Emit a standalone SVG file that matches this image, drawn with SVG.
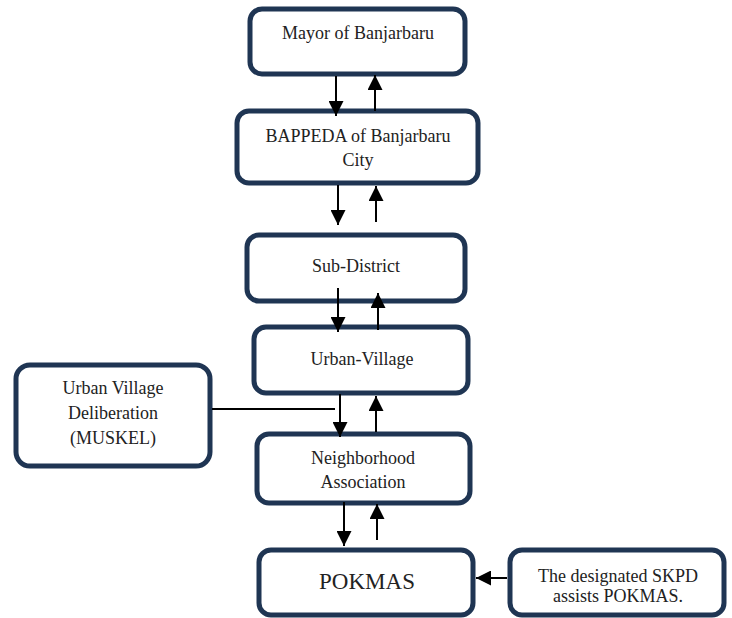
<svg xmlns="http://www.w3.org/2000/svg" width="732" height="618" viewBox="0 0 732 618">
<defs>
<style>
.box{fill:#fff;stroke:#1f3553;stroke-width:5}
.t{font-family:"Liberation Serif","DejaVu Serif",serif;font-size:18px;fill:#222;text-anchor:middle}
.c{stroke:#000;stroke-width:2;fill:none}
</style>
<marker id="ah" viewBox="0 0 10 10" refX="10" refY="5" markerWidth="7.5" markerHeight="7.5" markerUnits="strokeWidth" orient="auto">
<path d="M0,0 L10,5 L0,10 z" fill="#000"/>
</marker>
</defs>
<rect width="732" height="618" fill="#fff"/>
<g id="mayor"><rect class="box" x="250" y="9" width="215" height="65" rx="12"/><text class="t" x="358" y="39">Mayor of Banjarbaru</text></g>
<g id="bappeda"><rect class="box" x="237" y="111" width="241" height="72" rx="12"/><text class="t" x="358" y="142">BAPPEDA of Banjarbaru</text><text class="t" x="358" y="166">City</text></g>
<g id="subdistrict"><rect class="box" x="247" y="235" width="218" height="66" rx="12"/><text class="t" x="356" y="272">Sub-District</text></g>
<g id="urbanvillage"><rect class="box" x="254" y="327" width="214" height="66" rx="12"/><text class="t" x="362" y="365">Urban-Village</text></g>
<g id="neighborhood"><rect class="box" x="257" y="434" width="213" height="69" rx="12"/><text class="t" x="363" y="464">Neighborhood</text><text class="t" x="363" y="488">Association</text></g>
<g id="pokmas"><rect class="box" x="259" y="550" width="214" height="65" rx="12"/><text class="t" x="367" y="589" style="font-size:23px">POKMAS</text></g>
<g id="muskel"><rect class="box" x="16" y="365" width="194" height="101" rx="14"/><text class="t" x="113" y="394">Urban Village</text><text class="t" x="113" y="419">Deliberation</text><text class="t" x="113" y="444">(MUSKEL)</text></g>
<g id="skpd"><rect class="box" x="510" y="550" width="214" height="65" rx="12"/><text class="t" x="618" y="582">The designated SKPD</text><text class="t" x="618" y="602">assists POKMAS.</text></g>
<g id="connectors">
<line class="c" x1="336" y1="76" x2="336" y2="116" marker-end="url(#ah)"/>
<line class="c" x1="375" y1="111" x2="375" y2="75" marker-end="url(#ah)"/>
<line class="c" x1="338" y1="185" x2="338" y2="225" marker-end="url(#ah)"/>
<line class="c" x1="376" y1="222" x2="376" y2="186" marker-end="url(#ah)"/>
<line class="c" x1="338" y1="288" x2="338" y2="332" marker-end="url(#ah)"/>
<line class="c" x1="378" y1="330" x2="378" y2="293" marker-end="url(#ah)"/>
<line class="c" x1="340" y1="394" x2="340" y2="437" marker-end="url(#ah)"/>
<line class="c" x1="376" y1="432" x2="376" y2="396" marker-end="url(#ah)"/>
<line class="c" x1="212" y1="409" x2="335" y2="409"/>
<line class="c" x1="344" y1="502" x2="344" y2="546" marker-end="url(#ah)"/>
<line class="c" x1="377" y1="540" x2="377" y2="504" marker-end="url(#ah)"/>
<line class="c" x1="507" y1="578" x2="476" y2="578" marker-end="url(#ah)"/>
</g>
</svg>
